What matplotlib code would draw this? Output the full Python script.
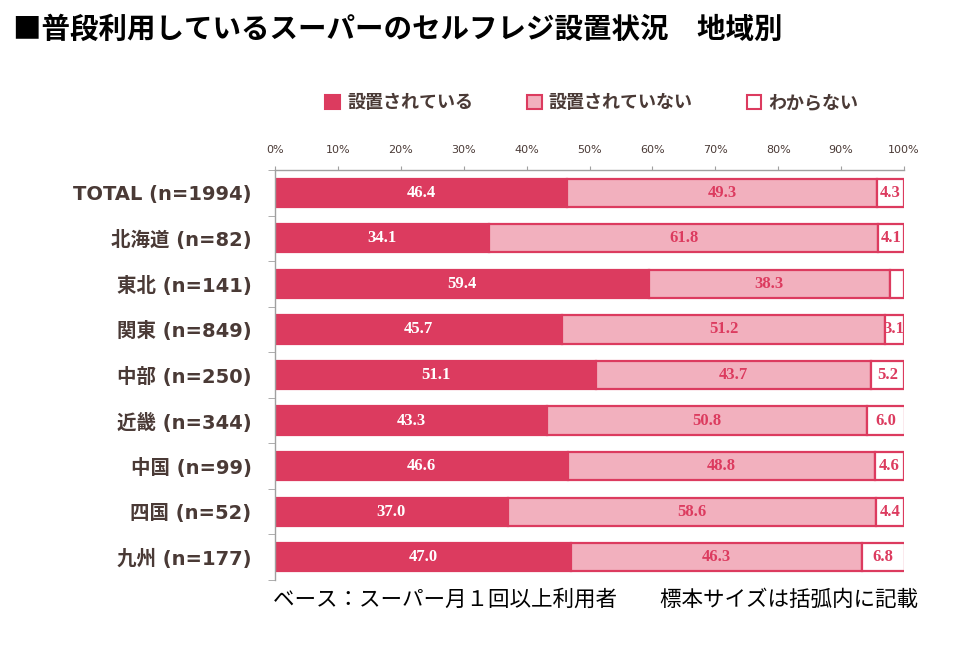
import matplotlib
matplotlib.use("Agg")
import matplotlib.pyplot as plt
from matplotlib.patches import Patch

plt.rcParams['font.family'] = ['Noto Sans CJK JP', 'DejaVu Sans']

categories = ["TOTAL (n=1994)", "北海道 (n=82)", "東北 (n=141)", "関東 (n=849)",
              "中部 (n=250)", "近畿 (n=344)", "中国 (n=99)", "四国 (n=52)", "九州 (n=177)"]
installed = [46.4, 34.1, 59.4, 45.7, 51.1, 43.3, 46.6, 37.0, 47.0]
not_installed = [49.3, 61.8, 38.3, 51.2, 43.7, 50.8, 48.8, 58.6, 46.3]
unknown = [4.3, 4.1, 2.3, 3.1, 5.2, 6.0, 4.6, 4.4, 6.8]
show_unknown = [True, True, False, True, True, True, True, True, True]
series_names = ["設置されている", "設置されていない", "わからない"]
ticks = [0, 10, 20, 30, 40, 50, 60, 70, 80, 90, 100]

DARK = "#DC3B5F"
LIGHT = "#F2B0BE"
WHITE = "#FFFFFF"
TXT = "#4A3A36"

fig = plt.figure(figsize=(9.6, 6.52), dpi=100)
ax = fig.add_axes([275/960, 1-580/652, (904-275)/960, 410/652])

y = list(range(len(categories)))
h = 0.62
lw = 1.6
ax.barh(y, installed, height=h, color=DARK, edgecolor=DARK, linewidth=lw)
left2 = installed
ax.barh(y, not_installed, left=left2, height=h, color=LIGHT, edgecolor=DARK, linewidth=lw)
left3 = [a + b for a, b in zip(installed, not_installed)]
ax.barh(y, unknown, left=left3, height=h, color=WHITE, edgecolor=DARK, linewidth=lw)

vfont = dict(family='Liberation Serif', weight='bold', fontsize=12)
for i in y:
    ax.text(installed[i] / 2, i, f"{installed[i]:.1f}", ha='center', va='center', color='white', **vfont)
    ax.text(left2[i] + not_installed[i] / 2, i, f"{not_installed[i]:.1f}", ha='center', va='center', color=DARK, **vfont)
    if show_unknown[i]:
        ax.text(left3[i] + unknown[i] / 2, i, f"{unknown[i]:.1f}", ha='center', va='center', color=DARK, **vfont)

ax.set_xlim(0, 100)
ax.set_ylim(len(categories) - 0.5, -0.5)
ax.xaxis.tick_top()
ax.set_xticks(ticks)
ax.set_xticklabels([f"{t}%" for t in ticks], fontsize=8, color=TXT, family='DejaVu Sans')
ax.tick_params(axis='x', length=3, color='#A0A0A0', pad=8)
ax.set_yticks(y)
ax.set_yticklabels(categories, fontsize=14, fontweight='bold', color=TXT,
                   family=['DejaVu Sans', 'Noto Sans CJK JP'])
ax.tick_params(axis='y', length=0, pad=17)
ax.set_yticks([i - 0.5 for i in range(len(categories) + 1)], minor=True)
ax.tick_params(axis='y', which='minor', length=5, color='#A0A0A0')
for s in ['right', 'bottom']:
    ax.spines[s].set_visible(False)
for s in ['left', 'top']:
    ax.spines[s].set_color('#A0A0A0')
    ax.spines[s].set_linewidth(1)

handles = [Patch(facecolor=DARK, edgecolor=DARK, linewidth=1.5),
           Patch(facecolor=LIGHT, edgecolor=DARK, linewidth=1.5),
           Patch(facecolor=WHITE, edgecolor=DARK, linewidth=1.5)]
leg = fig.legend(handles, series_names, loc='center', bbox_to_anchor=(592/960, 1-103/652),
                 ncol=3, frameon=False, handlelength=0.8, handleheight=0.8,
                 handletextpad=0.4, columnspacing=3.0,
                 prop=dict(family='Noto Sans CJK JP', weight='bold', size=13))
for t in leg.get_texts():
    t.set_color(TXT)

fig.text(13/960, 1-30/652, "■普段利用しているスーパーのセルフレジ設置状況　地域別",
         fontsize=20.5, fontweight='bold', color='black', va='center', ha='left')
fig.text(273/960, 1-600/652, "ベース：スーパー月１回以上利用者　　標本サイズは括弧内に記載",
         fontsize=15.5, color='black', va='center', ha='left')

fig.savefig("out.png", dpi=100)
